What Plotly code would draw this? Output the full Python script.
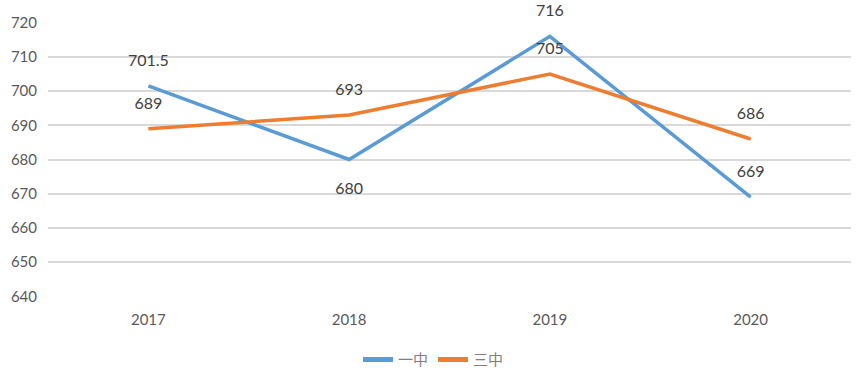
import plotly.graph_objects as go

years = ["2017", "2018", "2019", "2020"]
yizhong = [701.5, 680, 716, 669]
sanzhong = [689, 693, 705, 686]
yizhong_pos = ["top center", "bottom center", "top center", "top center"]
sanzhong_pos = ["top center", "top center", "top center", "top center"]
y_ticks = [640, 650, 660, 670, 680, 690, 700, 710, 720]

FONT = "Lato, Open Sans, sans-serif"

fig = go.Figure()
for name, vals, pos, color, sizes in [("一中", yizhong, yizhong_pos, "#5B9BD5", [24, 34, 24, 24]),
                                      ("三中", sanzhong, sanzhong_pos, "#ED7D31", [24, 24, 24, 24])]:
    fig.add_trace(go.Scatter(
        x=years, y=vals, name=name, mode="lines+markers+text",
        text=[str(v) for v in vals], textposition=pos,
        line=dict(color=color, width=3.5),
        marker=dict(size=sizes, color="rgba(0,0,0,0)", opacity=0,
                    line=dict(width=0, color="rgba(0,0,0,0)")),
        textfont=dict(family=FONT, size=16, color="#404040"),
        cliponaxis=False, hoverinfo="skip",
    ))

fig.update_layout(
    width=867, height=371,
    margin=dict(l=48, r=16, t=22, b=74, autoexpand=False),
    plot_bgcolor="white", paper_bgcolor="white",
    showlegend=True,
    legend=dict(orientation="h", xref="container", x=0.5, xanchor="center",
                yref="container", y=0.03, yanchor="middle",
                font=dict(family="Noto Sans CJK SC", size=15, color="#7f7f7f"),
                itemsizing="constant", itemwidth=30, traceorder="normal"),
    xaxis=dict(type="category", range=[-0.5, 3.5], showgrid=False, showline=False,
               ticks="", automargin=False, ticklabelstandoff=12,
               tickfont=dict(family=FONT, size=15, color="#595959")),
    yaxis=dict(range=[639.8, 720.2], tickvals=y_ticks, showgrid=True, gridcolor="#D9D9D9",
               gridwidth=1.5, zeroline=False, showline=False, ticks="", automargin=False,
               ticklabelstandoff=10,
               tickfont=dict(family=FONT, size=15, color="#595959")),
)

fig.write_html("out.html", config={"displayModeBar": False},
               post_script="document.body.style.margin='0';document.body.style.overflow='hidden';")
